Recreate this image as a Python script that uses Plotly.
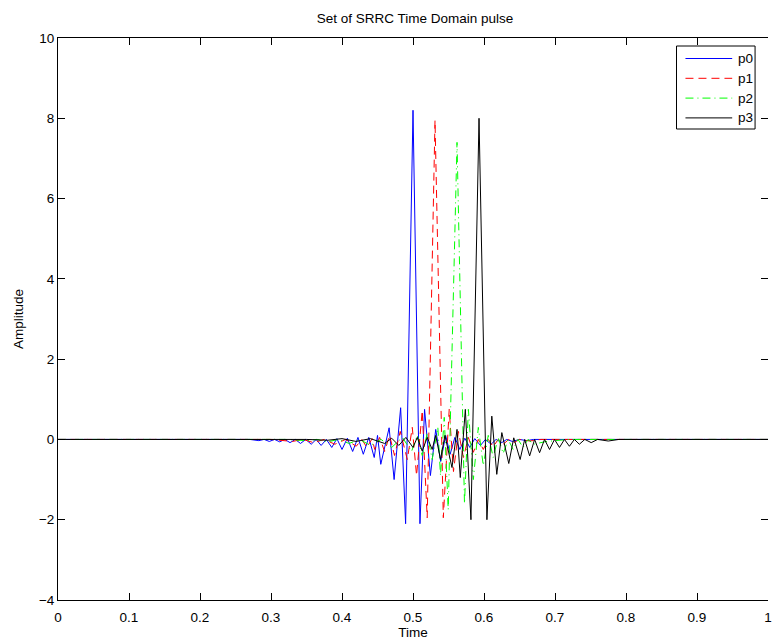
import plotly.graph_objects as go

# Pulse vertices: time (s) and amplitude for each SRRC pulse
p0_t = [0, 0.27, 0.2829, 0.2903, 0.2976, 0.305, 0.3122, 0.3195, 0.3268, 0.3342, 0.3415, 0.349,
        0.3566, 0.3636, 0.3706, 0.378, 0.3856, 0.3928, 0.4, 0.4075, 0.415, 0.4225, 0.43, 0.4377,
        0.4454, 0.45, 0.4546, 0.4664, 0.4734, 0.4826, 0.4896, 0.5, 0.5098, 0.5163, 0.5245, 0.532,
        0.539, 0.546, 0.5523, 0.559, 0.566, 0.573, 0.58, 0.587, 0.595, 0.602, 0.61, 0.617,
        0.625, 0.632, 0.64, 0.65, 0.66, 0.67, 1.0]
p0_v = [0, 0, -0.03, 0, -0.05, 0, -0.06, 0, -0.08, 0, -0.1, 0,
        -0.12, 0, -0.15, 0, -0.2, 0.02, -0.25, 0.03, -0.3, 0.05, -0.37, 0.05,
        -0.45, 0.1, -0.62, 0.29, -1.0, 0.79, -2.1, 8.2, -2.1, 0.75, -0.9, 0.25,
        -0.55, 0.1, -0.37, 0.05, -0.25, 0.03, -0.2, 0.02, -0.15, 0, -0.12, 0,
        -0.08, 0, -0.05, 0, -0.03, 0, 0]

p1_t = [0, 0.3, 0.33, 0.345, 0.36, 0.375, 0.39, 0.405, 0.42, 0.428, 0.435, 0.4425, 0.446,
        0.453, 0.46, 0.467, 0.474, 0.482, 0.492, 0.499, 0.505, 0.513, 0.52, 0.531, 0.5427,
        0.551, 0.557, 0.564, 0.571, 0.578, 0.585, 0.592, 0.599, 0.606, 0.613, 0.62, 0.627,
        0.635, 0.642, 0.65, 0.665, 0.68, 1.0]
p1_v = [0, 0, -0.05, 0, -0.08, 0, -0.12, 0, -0.17, 0, -0.2, 0.02, -0.25,
        0.05, -0.3, 0.1, -0.4, 0.2, -0.5, 0.3, -0.9, 0.72, -1.95, 7.95, -1.95,
        0.75, -0.8, 0.2, -0.45, 0.05, -0.32, 0, -0.25, 0, -0.18, 0, -0.12,
        0, -0.08, 0, -0.04, 0, 0]

p2_t = [0, 0.32, 0.35, 0.365, 0.38, 0.395, 0.41, 0.425, 0.44, 0.455, 0.47, 0.485, 0.498,
        0.506, 0.513, 0.52, 0.527, 0.535, 0.5387, 0.544, 0.5496, 0.562, 0.5725, 0.578, 0.585,
        0.592, 0.599, 0.606, 0.613, 0.62, 0.627, 0.634, 0.641, 0.648, 0.655, 0.662, 0.67,
        0.685, 0.7, 0.72, 1.0]
p2_v = [0, 0, -0.03, 0, -0.06, 0, -0.1, 0, -0.15, 0, -0.2, 0.05, -0.3,
        0.1, -0.4, 0.15, -0.5, 0.3, -0.9, 0.55, -1.75, 7.4, -1.6, 0.75, -1.0,
        0.3, -0.65, 0.1, -0.45, 0.05, -0.35, 0, -0.25, 0, -0.2, 0, -0.12,
        -0.06, -0.03, 0, 0]

p3_t = [0, 0.35, 0.38, 0.4, 0.42, 0.44, 0.46, 0.47, 0.48, 0.49, 0.5, 0.506, 0.513, 0.52,
        0.527, 0.532, 0.5387, 0.545, 0.5549, 0.562, 0.5666, 0.5737, 0.5816, 0.593, 0.6041,
        0.611, 0.618, 0.6251, 0.6349, 0.6419, 0.6509, 0.6573, 0.6643, 0.6713, 0.6783, 0.6853,
        0.6923, 0.6993, 0.7063, 0.7133, 0.7203, 0.7273, 0.7343, 0.742, 0.751, 0.76, 0.775,
        0.79, 1.0]
p3_v = [0, 0, -0.02, 0.02, -0.05, 0.02, -0.1, 0.03, -0.15, 0.05, -0.2, 0.05, -0.29, 0.05,
        -0.25, 0.1, -0.5, 0.1, -0.7, 0.25, -0.95, 0.75, -2.0, 8.0, -2.0,
        0.58, -0.87, 0.17, -0.6, 0.04, -0.5, 0, -0.41, 0, -0.33, 0,
        -0.25, 0, -0.2, 0, -0.17, 0, -0.12, 0, -0.08, 0, -0.04,
        0, 0]

names = ["p0", "p1", "p2", "p3"]
colors = ["#0000ff", "#ff0000", "#00ff00", "#000000"]
dashes = ["solid", "8px,5px", "8px,4px,1px,4px", "solid"]
series = [(p0_t, p0_v), (p1_t, p1_v), (p2_t, p2_v), (p3_t, p3_v)]

x_ticks = [0, 0.1, 0.2, 0.3, 0.4, 0.5, 0.6, 0.7, 0.8, 0.9, 1]
x_labels = ["0", "0.1", "0.2", "0.3", "0.4", "0.5", "0.6", "0.7", "0.8", "0.9", "1"]
y_ticks = [-4, -2, 0, 2, 4, 6, 8, 10]

FONT = "Liberation Sans, Arial, Helvetica, sans-serif"
FS = 13.5
W, H = 772, 641
ML, MR, MT, MB = 58, 0, 38, 41
PW, PH = W - ML - MR, H - MT - MB


def px(x):
    return (x - ML) / PW


def py(y):
    return (H - MB - y) / PH


fig = go.Figure()
for (t, v), name, c, d in zip(series, names, colors, dashes):
    fig.add_trace(go.Scatter(x=t, y=v, mode="lines", name=name, showlegend=False,
                             line=dict(color=c, width=1, dash=d)))

# invisible trace that carries the right-hand tick marks
fig.add_trace(go.Scatter(x=[0], y=[0], yaxis="y2", mode="lines",
                         line=dict(width=0), showlegend=False, hoverinfo="skip"))

# boxed legend in the top-right corner
shapes = [dict(type="rect", xref="paper", yref="paper", layer="above",
               x0=px(680), x1=px(759), y0=py(129), y1=py(46),
               line=dict(color="black", width=1), fillcolor="white")]
annotations = []
row_y = [58.5, 78.3, 98.1, 117.9]
for name, c, d, ry in zip(names, colors, dashes, row_y):
    shapes.append(dict(type="line", xref="paper", yref="paper", layer="above",
                       x0=px(689), x1=px(736), y0=py(ry), y1=py(ry),
                       line=dict(color=c, width=1, dash=d)))
    annotations.append(dict(xref="paper", yref="paper", x=px(740), y=py(ry),
                            xanchor="left", yanchor="middle", showarrow=False,
                            text=name, font=dict(size=FS, family=FONT, color="black")))

fig.update_layout(
    width=W, height=H,
    margin=dict(l=ML, r=MR, t=MT, b=MB),
    paper_bgcolor="white", plot_bgcolor="white",
    font=dict(family=FONT, size=FS, color="black"),
    title=dict(text="Set of SRRC Time Domain pulse", x=0.5375, xanchor="center",
               y=1 - 18 / H, yanchor="middle", font=dict(size=FS, family=FONT)),
    xaxis=dict(range=[0, 1], tickvals=x_ticks, ticktext=x_labels, ticks="inside",
               ticklen=7, tickcolor="black", showline=True, linecolor="black",
               linewidth=1, mirror="ticks", showgrid=False, zeroline=False,
               ticklabelstandoff=5, ticklabeloverflow="allow",
               title=dict(text="Time", standoff=3, font=dict(size=FS)),
               tickfont=dict(size=FS)),
    yaxis=dict(range=[-4, 10], tickvals=y_ticks, ticks="inside", ticklen=7,
               tickcolor="black", showline=True, linecolor="black", linewidth=1,
               showgrid=False, zeroline=False,
               title=dict(text="Amplitude", standoff=12, font=dict(size=FS)),
               tickfont=dict(size=FS)),
    yaxis2=dict(range=[-4, 10], tickvals=y_ticks, ticks="inside", ticklen=7,
                tickcolor="black", overlaying="y", side="right", showline=False,
                showgrid=False, zeroline=False, showticklabels=False),
    shapes=shapes,
    annotations=annotations,
    showlegend=False,
)

fig.write_html("out.html")
